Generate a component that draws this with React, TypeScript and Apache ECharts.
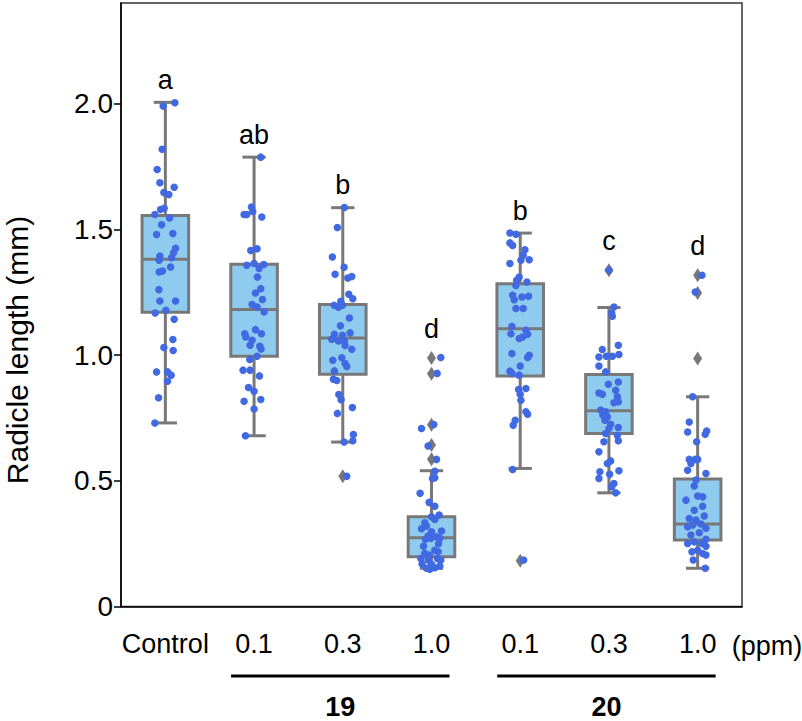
import React, { useEffect, useRef } from "react";
import * as echarts from "echarts";

const FONT = "'Liberation Sans', Arial, Helvetica, sans-serif";

const categories = ["Control", "0.1", "0.3", "1.0", "0.1", "0.3", "1.0"];
const letters = ["a", "ab", "b", "d", "b", "c", "d"];
const yTicks = [0, 0.5, 1.0, 1.5, 2.0];
const yAxisTitle = "Radicle length (mm)";
const unitLabel = "(ppm)";

// [lower whisker, Q1, median, Q3, upper whisker]
const boxStats = [
  [0.730, 1.170, 1.381, 1.555, 2.005],
  [0.679, 0.995, 1.181, 1.361, 1.787],
  [0.654, 0.924, 1.068, 1.201, 1.586],
  [0.152, 0.198, 0.273, 0.357, 0.540],
  [0.549, 0.917, 1.105, 1.284, 1.485],
  [0.452, 0.688, 0.778, 0.923, 1.189],
  [0.152, 0.264, 0.328, 0.507, 0.834],
];

const outliers = [
  [],
  [],
  [0.518],
  [0.988, 0.926, 0.723, 0.642, 0.586],
  [0.182],
  [1.337],
  [1.317, 1.247, 0.986],
];

// individual measurements: [jitter offset (px at reference scale), value]
const ptsControl = [
  [-2.2, 1.990], [9.5, 2.003], [-3.2, 1.818], [-8.2, 1.738], [-5.5, 1.685], [8.8, 1.667], [-1.5, 1.646], [3.5, 1.638],
  [-4.8, 1.579], [-1.2, 1.584], [-10.5, 1.559], [4.2, 1.545], [-3.8, 1.518], [-8.8, 1.479], [7.5, 1.483], [10.2, 1.425],
  [8.2, 1.407], [6.2, 1.387], [-5.5, 1.394], [-6.2, 1.377], [5.2, 1.350], [-2.8, 1.334], [-6.2, 1.330], [-6.5, 1.260],
  [-5.5, 1.215], [10.2, 1.215], [-10.2, 1.167], [0.5, 1.178], [8.8, 1.142], [7.5, 1.062], [-1.5, 1.030], [7.8, 1.018],
  [-8.8, 0.933], [2.2, 0.933], [5.8, 0.920], [2.2, 0.896], [-6.8, 0.830], [-10.5, 0.730],
];
const pts19_01 = [
  [6.7, 1.787], [-2.6, 1.589], [-10, 1.559], [-7.3, 1.559], [-1.3, 1.571], [7.7, 1.549], [-3.3, 1.416], [3, 1.423],
  [-7.3, 1.357], [0, 1.364], [9.7, 1.360], [5, 1.344], [3.4, 1.310], [6.7, 1.264], [1.4, 1.247], [8.4, 1.221],
  [-2, 1.201], [3, 1.191], [10, 1.171], [1.4, 1.101], [7.4, 1.085], [-9.3, 1.085], [-8.3, 1.072], [-2, 1.059],
  [-4, 1.039], [5.7, 1.035], [7, 1.024], [3, 0.995], [-4.3, 0.982], [-11, 0.940], [-4, 0.940], [5.4, 0.917],
  [-5.6, 0.871], [0, 0.856], [-10, 0.816], [6.7, 0.823], [0, 0.785], [-8.6, 0.679],
];
const pts19_03 = [
  [1.6, 1.587], [-5.4, 1.507], [-10.4, 1.390], [1.3, 1.349], [-7.7, 1.321], [5, 1.306], [9, 1.312], [6, 1.242],
  [10, 1.224], [-2, 1.214], [-8.7, 1.198], [-4.4, 1.190], [-0.4, 1.198], [6.6, 1.147], [-2.4, 1.116], [-8.4, 1.083],
  [7.3, 1.088], [-11, 1.063], [-4.4, 1.056], [1.6, 1.056], [-0.4, 1.079], [2.3, 1.038], [9, 1.023], [-10, 0.979],
  [-1, 0.989], [2.3, 0.966], [4, 0.954], [-8.4, 0.937], [-9.4, 0.904], [-6, 0.899], [-4, 0.843], [-1.7, 0.822],
  [9.6, 0.791], [-5.4, 0.768], [10.6, 0.684], [10, 0.659], [1.3, 0.654], [4, 0.518],
];
const pts19_10 = [
  [9.3, 0.990], [5.6, 0.927], [-10, 0.708], [2.3, 0.724], [-3.4, 0.638], [5, 0.585], [3.3, 0.538], [1, 0.509],
  [3.3, 0.512], [-11.4, 0.450], [-2.4, 0.414], [3.3, 0.399], [7.6, 0.364], [0, 0.357], [3.3, 0.346], [-6.7, 0.333],
  [-10, 0.309], [0, 0.297], [-3.4, 0.280], [5, 0.277], [8.3, 0.271], [-6, 0.267], [-0.7, 0.271], [3.3, 0.224],
  [-6.7, 0.211], [6.6, 0.218], [-10.7, 0.191], [-3.4, 0.185], [9.3, 0.185], [-9.4, 0.169], [0, 0.168], [8.3, 0.161],
  [-1.7, 0.148], [-5, 0.152], [3.3, 0.154], [-8, 0.240], [7, 0.250], [-2, 0.205], [10, 0.300], [-5, 0.320], [6, 0.190],
];
const pts20_01 = [
  [-10.3, 1.485], [-4.3, 1.480], [-10.3, 1.446], [-7.6, 1.436], [4.7, 1.419], [3, 1.397], [9, 1.379], [0.7, 1.377],
  [-10.3, 1.364], [-1, 1.310], [-3.6, 1.297], [6.7, 1.290], [-4.3, 1.277], [-7.6, 1.238], [1.7, 1.231], [8.4, 1.234],
  [-6, 1.220], [-4.3, 1.185], [3, 1.185], [-8.3, 1.114], [-9.3, 1.085], [5.7, 1.099], [7.4, 1.083], [2.4, 1.072],
  [-1, 1.066], [-8.3, 1.006], [9, 0.999], [7.4, 0.990], [0, 0.956], [-10.3, 0.936], [-8.3, 0.927], [-1, 0.920],
  [5.7, 0.867], [-1.6, 0.863], [0, 0.844], [0.7, 0.820], [5.7, 0.774], [7.4, 0.765], [-5, 0.741], [-7, 0.721],
  [-7.6, 0.545], [3.4, 0.185],
];
const pts20_03 = [
  [0, 1.337], [5, 1.191], [2.7, 1.167], [3.4, 1.154], [-6.6, 1.022], [9.4, 1.039], [-10, 0.992], [-2.6, 0.995],
  [3.4, 0.995], [10, 1.002], [-10, 0.956], [-3.3, 0.933], [9.4, 0.893], [-0.6, 0.884], [6.7, 0.860], [-10, 0.849],
  [-6.6, 0.844], [8.4, 0.834], [5, 0.810], [9.4, 0.814], [-8.3, 0.781], [-3.3, 0.774], [-6, 0.761], [-1.6, 0.754],
  [-4, 0.741], [1.7, 0.725], [0, 0.708], [9.4, 0.712], [-3.3, 0.688], [8.4, 0.681], [-5, 0.655], [9.4, 0.659],
  [-10, 0.615], [1.7, 0.579], [-1.6, 0.569], [-9, 0.536], [0.7, 0.526], [10, 0.540], [-10, 0.509], [5, 0.489],
  [2.7, 0.476], [6.7, 0.452],
];
const pts20_10 = [
  [4.3, 1.317], [-2.4, 1.251], [-5, 0.834], [-8.4, 0.734], [-10, 0.694], [9, 0.698], [7.6, 0.685], [-1, 0.655],
  [-8.4, 0.585], [-2.4, 0.585], [0, 0.585], [-6.7, 0.569], [-10, 0.542], [8.3, 0.529], [-1.7, 0.503], [-3.4, 0.479],
  [0, 0.439], [5, 0.436], [-11.7, 0.423], [5, 0.399], [-3.4, 0.383], [6.6, 0.360], [-8.4, 0.350], [-1.7, 0.344],
  [-5, 0.324], [3.3, 0.328], [8.3, 0.311], [-10, 0.317], [1.6, 0.293], [-6.7, 0.284], [8.3, 0.267], [-3.4, 0.257],
  [4.3, 0.251], [8.3, 0.240], [-10, 0.251], [-5.7, 0.218], [0, 0.224], [5, 0.211], [8.3, 0.205], [-4.4, 0.185],
  [7.6, 0.152],
];
const groupPoints = [ptsControl, pts19_01, pts19_03, pts19_10, pts20_01, pts20_03, pts20_10];

const compoundGroups = [
  { label: "19", from: 1, to: 3 },
  { label: "20", from: 4, to: 6 },
];

const BAND_PX = 88.7; // reference band width, converts jitter px to category units

export default function App() {
  const ref = useRef<HTMLDivElement>(null);

  useEffect(() => {
    if (!ref.current) return;
    const chart = echarts.init(ref.current, undefined, { renderer: "svg" });

    const boxData = boxStats.map((s, i) => [i, ...s]);
    const scatterData: number[][] = [];
    groupPoints.forEach((pts, i) => {
      pts.forEach(([dx, v]) => scatterData.push([i + dx / BAND_PX, v]));
    });

    const edge = "#787878";

    const renderBox = (params: any, api: any) => {
      const i = api.value(0);
      const band = api.size([1, 0])[0];
      const boxW = band * 0.525;
      const capW = boxW * 0.5;
      const cx = api.coord([i, 0])[0];
      const yLow = api.coord([i, api.value(1)])[1];
      const yQ1 = api.coord([i, api.value(2)])[1];
      const yMed = api.coord([i, api.value(3)])[1];
      const yQ3 = api.coord([i, api.value(4)])[1];
      const yHigh = api.coord([i, api.value(5)])[1];
      const lineStyle = { stroke: edge, lineWidth: 3 };
      const children: any[] = [
        { type: "line", shape: { x1: cx, y1: yQ3, x2: cx, y2: yHigh }, style: lineStyle },
        { type: "line", shape: { x1: cx, y1: yQ1, x2: cx, y2: yLow }, style: lineStyle },
        { type: "line", shape: { x1: cx - capW / 2, y1: yHigh, x2: cx + capW / 2, y2: yHigh }, style: lineStyle },
        { type: "line", shape: { x1: cx - capW / 2, y1: yLow, x2: cx + capW / 2, y2: yLow }, style: lineStyle },
        {
          type: "rect",
          shape: { x: cx - boxW / 2, y: yQ3, width: boxW, height: yQ1 - yQ3 },
          style: { fill: "#8fcbef", stroke: edge, lineWidth: 3 },
        },
        { type: "line", shape: { x1: cx - boxW / 2, y1: yMed, x2: cx + boxW / 2, y2: yMed }, style: lineStyle },
      ];
      let topPx = yHigh;
      (outliers[i] || []).forEach((o) => {
        const oy = api.coord([i, o])[1];
        children.push({
          type: "polygon",
          shape: { points: [[cx, oy - 7], [cx + 4.5, oy], [cx, oy + 7], [cx - 4.5, oy]] },
          style: { fill: edge },
        });
        topPx = Math.min(topPx, oy - 7);
      });
      children.push({
        type: "text",
        x: cx,
        y: topPx - 9,
        style: {
          text: letters[i],
          align: "center",
          verticalAlign: "bottom",
          font: `27px ${FONT}`,
          fill: "#000",
        },
      });
      return { type: "group", children };
    };

    chart.setOption({
      animation: false,
      backgroundColor: "#fff",
      grid: {
        left: 121,
        right: 60,
        top: 3,
        bottom: 114.5,
        show: true,
        borderColor: "#333",
        borderWidth: 1.5,
        backgroundColor: "transparent",
      },
      xAxis: [
        {
          type: "category",
          data: categories,
          boundaryGap: true,
          axisLine: { lineStyle: { color: "#000", width: 1.5 } },
          axisTick: { alignWithLabel: true, length: 7, lineStyle: { color: "#000", width: 1.5 } },
          axisLabel: { color: "#000", fontSize: 27, fontFamily: FONT, margin: 24, interval: 0 },
          splitLine: { show: false },
        },
        { type: "value", min: -0.5, max: 6.5, show: false },
      ],
      yAxis: {
        type: "value",
        min: 0,
        max: 2.4,
        interval: 0.5,
        axisLine: { show: true, onZero: false, lineStyle: { color: "#000", width: 1.5 } },
        axisTick: { show: true, length: 7, customValues: yTicks, lineStyle: { color: "#000", width: 1.5 } },
        axisLabel: {
          color: "#000",
          fontSize: 28,
          fontFamily: FONT,
          margin: 8,
          customValues: yTicks,
          formatter: (v: number) => (v === 0 ? "0" : v.toFixed(1)),
        },
        splitLine: { show: false },
      },
      series: [
        {
          type: "custom",
          xAxisIndex: 0,
          yAxisIndex: 0,
          data: boxData,
          encode: { x: 0, y: [1, 2, 3, 4, 5] },
          renderItem: renderBox,
          z: 2,
          silent: true,
        },
        {
          type: "scatter",
          xAxisIndex: 1,
          yAxisIndex: 0,
          data: scatterData,
          symbol: "circle",
          symbolSize: 7.5,
          itemStyle: { color: "#4169e1", opacity: 1 },
          z: 3,
          silent: true,
        },
      ],
    });

    const axisY = chart.convertToPixel({ yAxisIndex: 0 }, 0) as number;
    const yAt = (v: number) => chart.convertToPixel({ yAxisIndex: 0 }, v) as number;
    const px = (i: number) => chart.convertToPixel({ xAxisIndex: 0 }, i) as number;
    const graphic: any[] = [
      {
        type: "text",
        x: 17,
        y: yAt(1.02),
        rotation: Math.PI / 2,
        style: { text: yAxisTitle, font: `30px ${FONT}`, fill: "#000", align: "center", verticalAlign: "middle" },
      },
      {
        type: "text",
        x: px(categories.length - 1) + 34,
        y: axisY + 39,
        style: { text: unitLabel, font: `27px ${FONT}`, fill: "#000", align: "left", verticalAlign: "middle" },
      },
    ];
    compoundGroups.forEach((g) => {
      const x1 = px(g.from) - 23;
      const x2 = px(g.to) + 18;
      graphic.push({
        type: "line",
        shape: { x1, y1: axisY + 69.5, x2, y2: axisY + 69.5 },
        style: { stroke: "#000", lineWidth: 3 },
      });
      graphic.push({
        type: "text",
        x: (x1 + x2) / 2,
        y: axisY + 100,
        style: {
          text: g.label,
          font: `bold 27px ${FONT}`,
          lineHeight: 22,
          fill: "#000",
          align: "center",
          verticalAlign: "middle",
        },
      });
    });
    chart.setOption({ graphic });

    return () => chart.dispose();
  }, []);

  return (
    <div
      ref={ref}
      style={{ position: "fixed", left: 0, top: 0, width: 802, height: 721, background: "#fff" }}
    />
  );
}
